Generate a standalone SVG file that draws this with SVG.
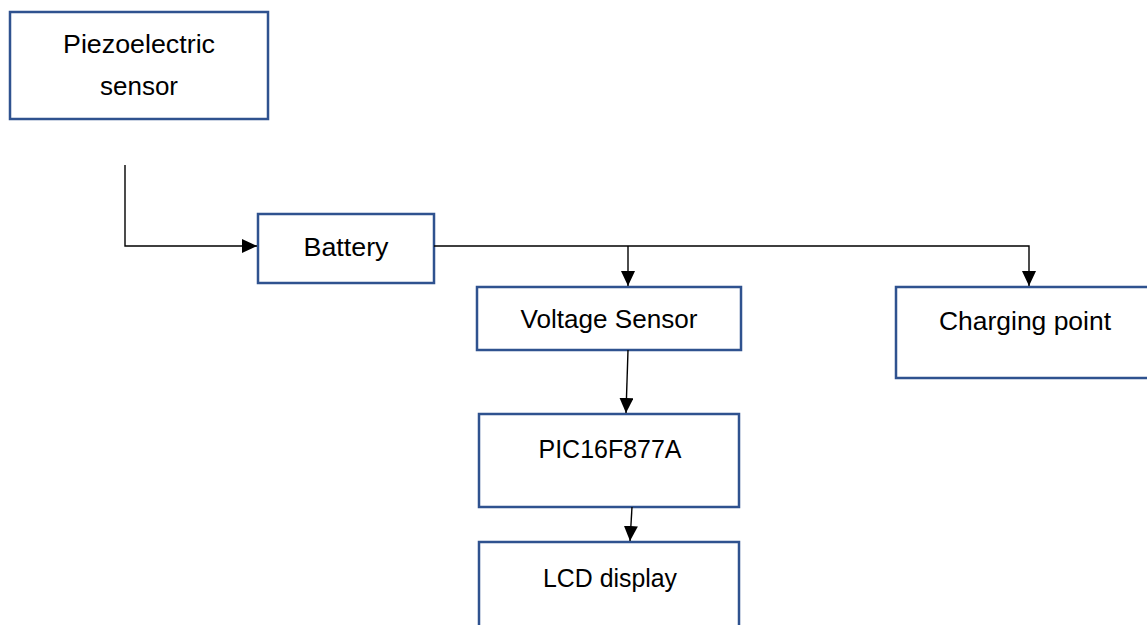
<svg xmlns="http://www.w3.org/2000/svg" width="1147" height="625" viewBox="0 0 1147 625">
<style>
.box{fill:#fff;stroke:#2F528F;stroke-width:2.5}
.lbl{font-family:"Liberation Sans",Arial,sans-serif;font-size:25px;fill:#000;text-anchor:middle}
.ln{fill:none;stroke:#000;stroke-width:1.4}
</style>
<defs>
<marker id="ah" markerWidth="15" markerHeight="14" refX="15" refY="7" orient="auto" markerUnits="userSpaceOnUse">
<path d="M0,0 L15,7 L0,14 Z" fill="#000"/>
</marker>
</defs>
<rect width="1147" height="625" fill="#fff"/>
<g id="piezo">
<rect class="box" x="10" y="12" width="258" height="107"/>
<text class="lbl" x="139" y="53" textLength="152" lengthAdjust="spacingAndGlyphs">Piezoelectric</text>
<text class="lbl" x="139" y="95" textLength="78" lengthAdjust="spacingAndGlyphs">sensor</text>
</g>
<g id="battery">
<rect class="box" x="258" y="214" width="176" height="69"/>
<text class="lbl" x="346" y="256" textLength="85" lengthAdjust="spacingAndGlyphs">Battery</text>
</g>
<g id="voltage">
<rect class="box" x="477" y="287" width="264" height="63"/>
<text class="lbl" x="609" y="328" textLength="177" lengthAdjust="spacingAndGlyphs">Voltage Sensor</text>
</g>
<g id="charging">
<rect class="box" x="896" y="287" width="260" height="91"/>
<text class="lbl" x="1025" y="330" textLength="172" lengthAdjust="spacingAndGlyphs">Charging point</text>
</g>
<g id="pic">
<rect class="box" x="479" y="414" width="260" height="93"/>
<text class="lbl" x="610" y="458" textLength="143" lengthAdjust="spacingAndGlyphs">PIC16F877A</text>
</g>
<g id="lcd">
<rect class="box" x="479" y="542" width="260" height="100"/>
<text class="lbl" x="610" y="587" textLength="134" lengthAdjust="spacingAndGlyphs">LCD display</text>
</g>
<g id="connectors">
<path class="ln" d="M125,165 V246 H257" marker-end="url(#ah)"/>
<path class="ln" d="M434,246 H1029 V286" marker-end="url(#ah)"/>
<path class="ln" d="M628,246 V286" marker-end="url(#ah)"/>
<path class="ln" d="M628,350 L626,413" marker-end="url(#ah)"/>
<path class="ln" d="M632,507 L630,541" marker-end="url(#ah)"/>
</g>
</svg>
